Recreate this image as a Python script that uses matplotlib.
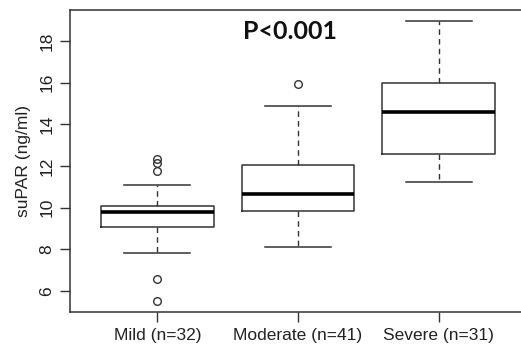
import matplotlib
matplotlib.use("Agg")
import matplotlib.pyplot as plt

categories = ["Mild (n=32)", "Moderate (n=41)", "Severe (n=31)"]
q1 = [9.05, 9.83, 12.56]
med = [9.81, 10.67, 14.60]
q3 = [10.10, 12.04, 16.00]
whislo = [7.81, 8.11, 11.25]
whishi = [11.08, 14.90, 18.95]
fliers = [[12.33, 12.15, 11.75, 6.58, 5.52], [15.96], []]
yticks = [6, 8, 10, 12, 14, 16, 18]
ptext = "P<0.001"

stats = []
for i, c in enumerate(categories):
    stats.append(dict(label=c, q1=q1[i], med=med[i], q3=q3[i],
                      whislo=whislo[i], whishi=whishi[i], fliers=fliers[i]))

plt.rcParams['font.family'] = ['Liberation Sans', 'DejaVu Sans']
fig = plt.figure(figsize=(5.21, 3.47), dpi=100)
ax = fig.add_axes([70/521, 35/347, 456/521, 302/347])
edge = '#333333'
ax.bxp(stats, positions=[1, 2, 3], widths=0.8, showfliers=True,
       boxprops=dict(color=edge, linewidth=1.1),
       medianprops=dict(color='black', linewidth=2.6),
       whiskerprops=dict(color=edge, linewidth=1.0, linestyle=(0, (4, 3))),
       capprops=dict(color=edge, linewidth=1.1),
       flierprops=dict(marker='o', markerfacecolor='none', markeredgecolor=edge,
                       markersize=5.5, markeredgewidth=1.0),
       capwidths=0.47)
ax.set_xlim(0.38, 3.62)
ax.set_ylim(4.99, 19.49)
ax.set_yticks(yticks)
ax.set_yticklabels([str(t) for t in yticks], rotation=90, va='center')
ax.tick_params(axis='both', labelsize=12.5, length=7.2, width=1.0, color=edge, labelcolor='#222222')
ax.tick_params(axis='y', pad=4)
ax.tick_params(axis='x', pad=4)
ax.set_ylabel("suPAR (ng/ml)", fontsize=12.5, color='#222222', labelpad=6)
for s in ax.spines.values():
    s.set_color(edge)
    s.set_linewidth(1.1)
ax.text(0.482, 0.930, ptext, transform=ax.transAxes, fontsize=18, fontweight='bold',
        family=['Lato', 'DejaVu Sans'], ha='center', va='center', color='#111111')
fig.savefig("out.png", dpi=100)
